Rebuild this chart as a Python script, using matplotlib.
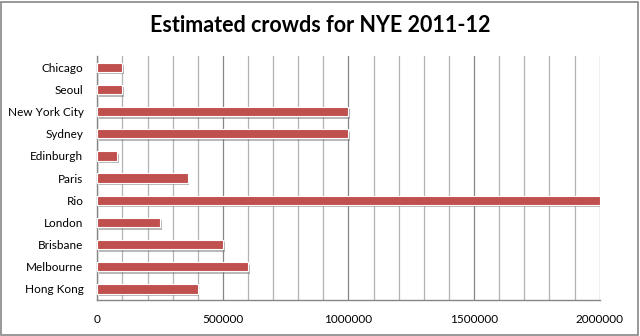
import matplotlib.pyplot as plt
import matplotlib.patheffects as pe
from matplotlib.patches import Rectangle
from matplotlib.ticker import MultipleLocator

plt.rcParams['font.family'] = ['Lato', 'DejaVu Sans']

cities = ['Chicago', 'Seoul', 'New York City', 'Sydney', 'Edinburgh', 'Paris',
          'Rio', 'London', 'Brisbane', 'Melbourne', 'Hong Kong']
crowds = [100000, 100000, 1000000, 1000000, 80000, 360000,
          2000000, 250000, 500000, 600000, 400000]

fig = plt.figure(figsize=(6.4, 3.36), dpi=100)
ax = fig.add_axes([0.152, 0.107, 0.785, 0.726])

# reversed so first city sits on top
ypos = list(range(len(cities)))[::-1]
bars = ax.barh(ypos, crowds, height=0.42, color='#C0504D', edgecolor='white',
               linewidth=0.8, zorder=3)
for b in bars:
    b.set_path_effects([pe.SimplePatchShadow(offset=(1.2, -1.8), shadow_rgbFace='#7F7F7F', alpha=0.55),
                        pe.Normal()])

ax.set_xlim(0, 2000000)
ax.set_ylim(-0.5, len(cities) - 0.5)
ax.set_yticks(ypos)
ax.set_yticklabels(cities)
ax.xaxis.set_major_locator(MultipleLocator(500000))
ax.xaxis.set_minor_locator(MultipleLocator(100000))
ax.ticklabel_format(axis='x', style='plain')
ax.grid(axis='x', which='minor', color='#B3B3B3', linewidth=0.9, zorder=0)
ax.grid(axis='x', which='major', color='#868686', linewidth=0.9, zorder=0)
ax.tick_params(axis='both', which='both', length=0, labelsize=8.5)
ax.tick_params(axis='x', pad=10)
ax.tick_params(axis='y', pad=10)

for s in ['top', 'right']:
    ax.spines[s].set_visible(False)
for s in ['left', 'bottom']:
    ax.spines[s].set_color('#868686')
    ax.spines[s].set_linewidth(1)

fig.text(0.5, 0.925, 'Estimated crowds for NYE 2011-12', ha='center', va='center',
         fontsize=15.5, fontweight='bold')

fig.patches.append(Rectangle((0.002, 0.003), 0.995, 0.992, transform=fig.transFigure,
                             fill=False, edgecolor='#868686', linewidth=1.2))

plt.savefig('out.png', dpi=100)
